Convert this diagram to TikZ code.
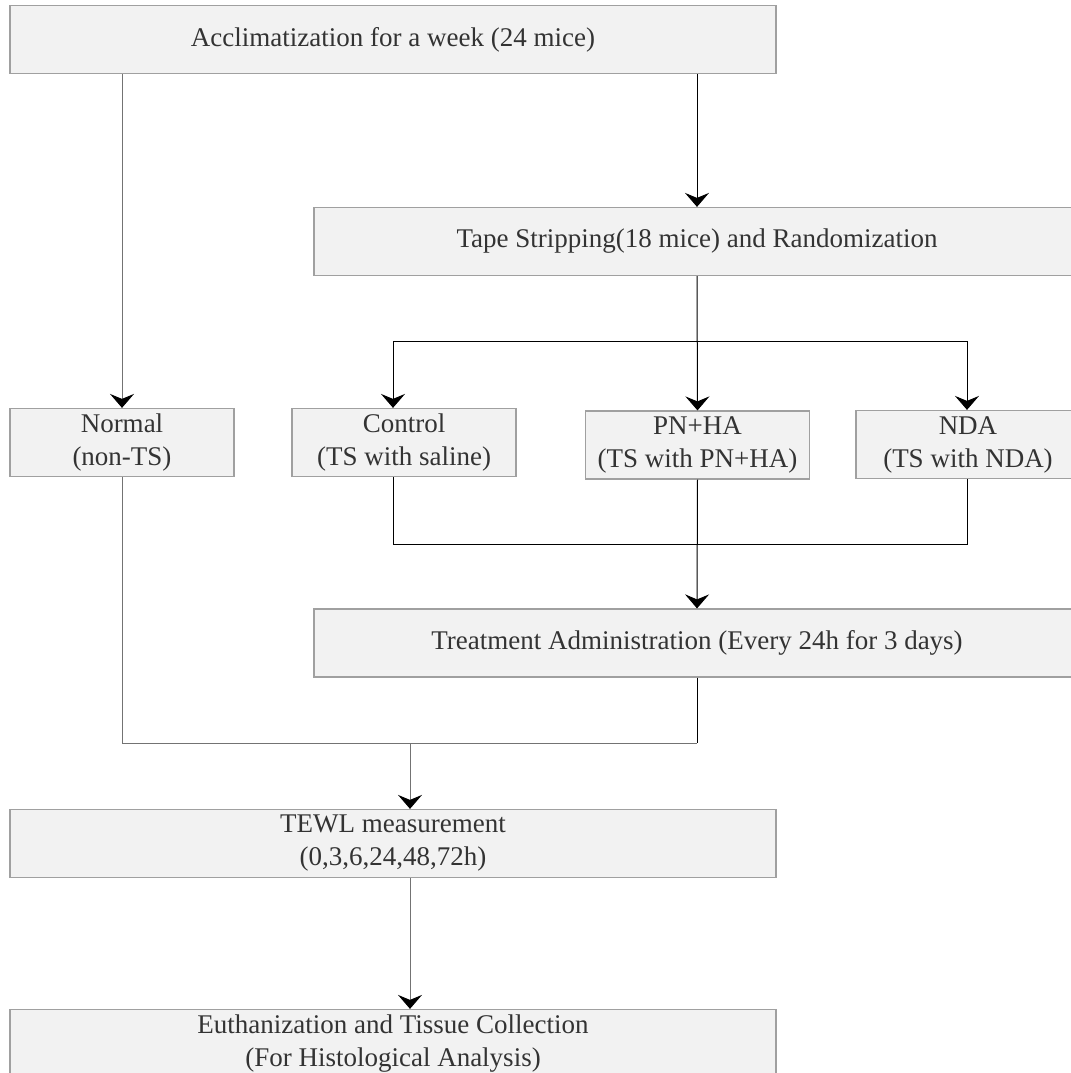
\documentclass[tikz,border=0pt]{standalone}
\usepackage{fontspec}
\setmainfont{Liberation Serif}
\usetikzlibrary{arrows.meta}
\definecolor{boxfill}{HTML}{F2F2F2}
\definecolor{boxline}{HTML}{A0A0A0}
\definecolor{txt}{HTML}{333333}

\begin{document}
\begin{tikzpicture}[
	x = 0.5pt, y = -0.5pt,
	stage/.style = {draw = boxline, fill = boxfill, line width = 0.6pt,
		minimum height = 34pt, inner sep = 0pt, align = center,
		text = txt, font = \fontsize{13.5pt}{16.5pt}\selectfont},
	wide/.style = {stage, minimum width = 383pt},
	group/.style = {stage, minimum width = 112pt},
	link/.style = {draw = black, line width = 0.5pt},
	linkg/.style = {draw = black!55, line width = 0.5pt},
	arr/.style = {-{Stealth[length = 7pt, width = 12pt, inset = 2.5pt, color = black]}}
	]
	\useasboundingbox (0,0) rectangle (1071,1073);
	\clip (0,0) rectangle (1071,1073);
	% boxes
	\node[wide] (accl) at (393,39.5) {Acclimatization for a week (24 mice)};
	\node[wide] (tape) at (697,241.5) {Tape Stripping(18 mice) and Randomization};
	\node[group] (normal) at (122,442.5) {Normal\\(non-TS)};
	\node[group] (control) at (404,442.5) {Control\\(TS with saline)};
	\node[group] (pnha) at (697.5,445) {PN+HA\\(TS with PN+HA)};
	\node[group] (nda) at (968,444.5) {NDA\\(TS with NDA)};
	\node[wide] (treat) at (697,643) {Treatment Administration (Every 24h for 3 days)};
	\node[wide] (tewl) at (393,843.5) {TEWL measurement\\(0,3,6,24,48,72h)};
	\node[wide] (euth) at (393,1043.5) {Euthanization and Tissue Collection\\(For Histological Analysis)};
	% split and merge points
	\coordinate (sl) at (393,341);
	\coordinate (sr) at (967,341);
	\coordinate (ml) at (393,544);
	\coordinate (mr) at (967,544);
	\coordinate (jl) at (122,743);
	\coordinate (jr) at (697,743);
	\coordinate (jm) at (410,743);
	% connectors
	\draw[linkg, arr] (normal.north |- accl.south) -- (normal.north);
	\draw[link, arr] (tape.north |- accl.south) -- (tape.north);
	\draw[link, arr] (tape.south) -- (pnha.north);
	\draw[link] (sl) -- (sr);
	\draw[link, arr] (sl) -- (sl |- control.north);
	\draw[link, arr] (sr) -- (sr |- nda.north);
	\draw[link] (ml |- control.south) -- (ml) -- (mr) -- (mr |- nda.south);
	\draw[link, arr] (pnha.south) -- (treat.north);
	\draw[linkg] (normal.south) -- (jl) -- (jr);
	\draw[link] (treat.south) -- (jr);
	\draw[linkg, arr] (jm) -- (jm |- tewl.north);
	\draw[linkg, arr] (jm |- tewl.south) -- (jm |- euth.north);
\end{tikzpicture}
\end{document}
